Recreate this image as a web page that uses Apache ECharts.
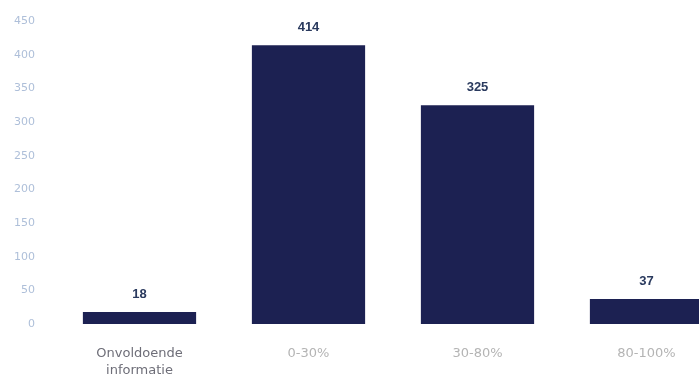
<!DOCTYPE html>
<html><head><meta charset="utf-8">
<script src="https://cdn.jsdelivr.net/npm/echarts@6/dist/echarts.min.js"></script>
<style>html,body{margin:0;padding:0;background:#fff;overflow:hidden;width:699px;height:381px}#c{width:731px;height:381px}</style>
</head><body><div id="c"></div>
<script>
var categories = ["Onvoldoende\ninformatie", "0-30%", "30-80%", "80-100%"];
var values = [18, 414, 325, 37];
var chart = echarts.init(document.getElementById('c'));
chart.setOption({
  animation: false,
  grid: {left: 55, right: 0, top: 21, bottom: 57},
  xAxis: {
    type: 'category', data: categories,
    axisLine: {show: false}, axisTick: {show: false},
    axisLabel: {margin: 21, fontSize: 13, fontFamily: 'DejaVu Sans', lineHeight: 17,
      color: function (v, i) { return i === 0 ? '#6e6e78' : '#b4b4b4'; }}
  },
  yAxis: {
    type: 'value', min: 0, max: 450, interval: 50,
    splitLine: {show: false}, axisLine: {show: false}, axisTick: {show: false},
    axisLabel: {margin: 20, color: '#aebfd9', fontSize: 11, fontFamily: 'DejaVu Sans'}
  },
  series: [{
    type: 'bar', data: values, barWidth: '67%',
    itemStyle: {color: '#1c2152'},
    label: {show: true, position: 'top', distance: 11, color: '#2a3a5e', fontWeight: 'bold', fontSize: 13, fontFamily: 'Liberation Sans'}
  }]
});
</script></body></html>
